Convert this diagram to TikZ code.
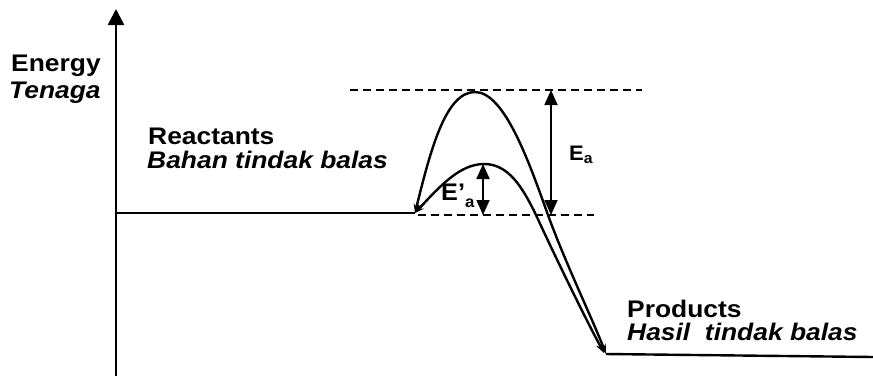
\documentclass[tikz,border=0pt]{standalone}
\usepackage{fontspec}
\setmainfont{Liberation Sans}
\usetikzlibrary{arrows.meta}
\begin{document}
\begin{tikzpicture}[x=1pt,y=-1pt,
  lbl/.style={inner sep=0pt, anchor=base west, font=\fontsize{24}{24}\selectfont\bfseries, xscale=1.1},
  lblit/.style={lbl, font=\fontsize{24}{24}\selectfont\bfseries\itshape},
  elbl/.style={inner sep=0pt, anchor=base west, font=\fontsize{21}{21}\selectfont\bfseries, xscale=1.05},
  elblbig/.style={elbl, font=\fontsize{24}{24}\selectfont\bfseries},
  axisline/.style={line width=2.6pt, -{Triangle[width=16pt,length=16pt]}},
  level/.style={line width=2.4pt},
  dashline/.style={line width=2.4pt, dash pattern=on 8pt off 5pt},
  curve/.style={line width=2.4pt, {Stealth[length=9pt,width=7pt]}-{Stealth[length=10pt,width=7pt]}},
  earrow/.style={line width=1.8pt, {Triangle[width=13pt,length=15pt]}-{Triangle[width=13pt,length=15pt]}}
]
\useasboundingbox (0,0) rectangle (873,376);
% axis
\coordinate (axb) at (116,376);
\coordinate (axt) at (116,9);
\draw[axisline] (axb) -- (axt);
% levels
\coordinate (r0) at (116,213);
\coordinate (s) at (415,213);
\coordinate (e) at (606,354);
\coordinate (p1) at (873,357);
\draw[level] (r0) -- (s);
\draw[level] (e) -- (p1);
% dashed lines
\coordinate (dt1) at (350,90);
\coordinate (dt2) at (642,90);
\coordinate (db1) at (418,215);
\coordinate (db2) at (594,215);
\draw[dashline] (dt1) -- (dt2);
\draw[dashline] (db1) -- (db2);
% curves
\coordinate (ph) at (475,92);
\coordinate (pl) at (484,164);
\coordinate (e2) at (604,353);
\draw[curve] (s) .. controls (431,148) and (446,92) .. (ph)
  .. controls (505,92) and (530,165) .. (548,215)
  .. controls (565,262) and (592,318) .. (e);
\draw[curve] (s) .. controls (440,186) and (460,164) .. (pl)
  .. controls (508,164) and (522,186) .. (536,215)
  .. controls (553,252) and (584,316) .. (e2);
% activation energy arrows
\coordinate (ea1) at (551,90);
\coordinate (ea2) at (551,215);
\coordinate (eb1) at (483,164);
\coordinate (eb2) at (483,215);
\draw[earrow] (ea2) -- (ea1);
\draw[earrow] (eb2) -- (eb1);
% labels
\node[lbl] (energy) at (11,71) {Energy};
\node[lblit] (tenaga) at (9,98) {Tenaga};
\node[lbl] (reac) at (148,144) {Reactants};
\node[lblit] (bahan) at (147,168) {Bahan tindak balas};
\node[lbl] (prod) at (627,317) {Products};
\node[lblit] (hasil) at (627,340) {Hasil\ \ tindak balas};
\node[elbl] (ea) at (569,160) {E\raisebox{-3pt}{\fontsize{15}{15}\selectfont a}};
\node[elblbig] (eap) at (441,200) {E'\raisebox{-7pt}{\fontsize{16}{16}\selectfont a}};
\end{tikzpicture}
\end{document}
